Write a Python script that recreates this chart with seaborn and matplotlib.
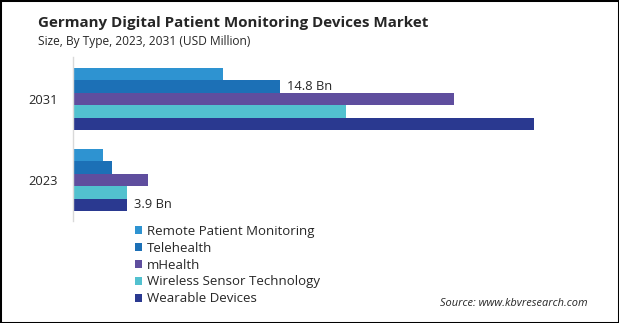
import matplotlib
matplotlib.use("Agg")
import matplotlib.pyplot as plt
from matplotlib.patches import Rectangle
import seaborn as sns
import pandas as pd

# Market size by device type, USD billion
years = ["2031", "2023"]
types = ["Remote Patient Monitoring", "Telehealth", "mHealth",
         "Wireless Sensor Technology", "Wearable Devices"]
values_2031 = [10.7, 14.8, 27.2, 19.5, 32.9]
values_2023 = [2.2, 2.8, 5.4, 3.9, 3.9]
colors = ["#2E93D1", "#1C70B6", "#5F4E9E", "#52C1CF", "#2A3990"]

# value callouts: (year, type)
callouts = [("2031", "Telehealth"), ("2023", "Wearable Devices")]

df = pd.DataFrame({
    "Year": [y for y in years for _ in types],
    "Type": types * len(years),
    "Value": values_2031 + values_2023,
})

W, H = 619, 323
fig = plt.figure(figsize=(W / 100, H / 100), dpi=100)
sns.set_style("white")
plt.rcParams["font.family"] = ["Open Sans", "DejaVu Sans"]

ax_left, ax_right, ax_top, ax_bot = 72.6, 600, 57, 221
ax = fig.add_axes([ax_left / W, 1 - ax_bot / H,
                   (ax_right - ax_left) / W, (ax_bot - ax_top) / H])

sns.barplot(data=df, y="Year", x="Value", hue="Type", order=years,
            hue_order=types, palette=colors, orient="h", width=0.765,
            gap=0, saturation=1, ax=ax, linewidth=0)

px_per_bn = 207.4 / 14.8
ax.set_xlim(0, (ax_right - ax_left) / px_per_bn)
ax.set_ylim(1.506, -0.519)

for side in ["top", "right", "bottom"]:
    ax.spines[side].set_visible(False)
ax.spines["left"].set_color("#d9d9d9")
ax.spines["left"].set_linewidth(1.0)
ax.set_xticks([])
ax.set_xlabel("")
ax.set_ylabel("")
ax.tick_params(axis="y", length=0, pad=10.5, labelsize=9.3, labelcolor="#262626")

# value labels on selected bars
for yr, tp in callouts:
    cont = ax.containers[types.index(tp)]
    idx = years.index(yr)
    labels = [""] * len(years)
    labels[idx] = f"{df.loc[(df.Year == yr) & (df.Type == tp), 'Value'].iloc[0]:.1f} Bn"
    ax.bar_label(cont, labels=labels, padding=5, fontsize=9.3, color="#262626")

handles, labs = ax.get_legend_handles_labels()
ax.get_legend().remove()
fig.legend(handles, labs, loc="upper left",
           bbox_to_anchor=(135 / W, 1 - 225 / H), frameon=False,
           fontsize=9.5, handlelength=0.53, handleheight=0.53,
           handletextpad=0.38, labelspacing=0.29, borderpad=0,
           borderaxespad=0, labelcolor="#262626")

fig.text(38 / W, 1 - 27 / H, "Germany Digital Patient Monitoring Devices Market",
         fontsize=10.9, fontweight="bold", color="#262626", va="baseline")
fig.text(38 / W, 1 - 45.5 / H, "Size, By Type, 2023, 2031 (USD Million)",
         fontsize=8.55, color="#262626", va="baseline")
fig.text(588 / W, 1 - 304 / H, "Source: www.kbvresearch.com",
         fontsize=7.9, style="italic", color="#262626", va="center", ha="right")

fig.patches.append(Rectangle((0, 0), 1, 1, transform=fig.transFigure,
                             fill=False, edgecolor="black", linewidth=2.2))

fig.savefig("out.png", dpi=100)
